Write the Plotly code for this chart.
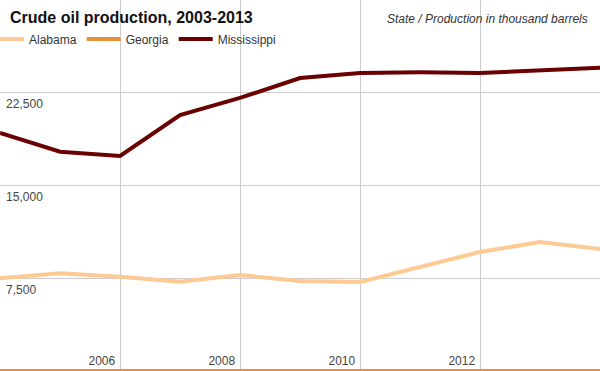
import plotly.graph_objects as go

years = [2003, 2004, 2005, 2006, 2007, 2008, 2009, 2010, 2011, 2012, 2013]
# each annual value is plotted at the end of its year
dates = [f"{y}-12-31" for y in years]

alabama = [7500, 7900, 7620, 7220, 7760, 7280, 7200, 8410, 9620, 10430, 9870]
georgia = [0, 0, 0, 0, 0, 0, 0, 0, 0, 0, 0]
mississippi = [19250, 17730, 17390, 20700, 22080, 23690, 24100, 24150, 24100, 24340, 24520]

series = [
    ("Alabama", alabama, "#fdca94"),
    ("Georgia", georgia, "#e8913a"),
    ("Mississippi", mississippi, "#6b0000"),
]

x_tickvals = ["2006-01-01", "2008-01-01", "2010-01-01", "2012-01-01"]
x_ticktext = ["2006", "2008", "2010", "2012"]
y_tickvals = [7500, 15000, 22500, 30000]
y_ticktext = ["7,500", "15,000", "22,500", ""]

fig = go.Figure()
for name, vals, color in series:
    fig.add_trace(go.Scatter(
        x=dates, y=vals, name=name, mode="lines",
        line=dict(color=color, width=4),
        hoverinfo="skip",
    ))

font_family = "Liberation Sans, Arial, sans-serif"

fig.update_layout(
    width=600, height=371,
    margin=dict(l=0, r=0, t=0, b=0, autoexpand=False),
    paper_bgcolor="white", plot_bgcolor="white",
    font=dict(family=font_family, size=12, color="#444"),
    title=dict(
        text="<b>Crude oil production, 2003-2013</b>",
        font=dict(size=16, color="#111", family=font_family),
        x=10/600, xanchor="left", xref="paper",
        y=1-17/371, yanchor="middle", yref="container",
    ),
    showlegend=True,
    legend=dict(
        orientation="h",
        x=-15/600, xanchor="left",
        y=1-39/371, yanchor="middle",
        bgcolor="rgba(0,0,0,0)",
        itemwidth=34,
        font=dict(size=12, color="#333", family=font_family),
        traceorder="normal",
    ),
    xaxis=dict(
        type="date",
        range=[dates[0], dates[-1]],
        tickvals=x_tickvals, ticktext=x_ticktext,
        showgrid=True, gridcolor="#cccccc", gridwidth=1,
        zeroline=False, showline=False,
        ticklabelposition="inside left",
        ticklabelshift=-5,
        ticklabelstandoff=-2,
        ticks="",
        automargin=False,
        tickfont=dict(size=12, color="#444"),
        fixedrange=True,
    ),
    yaxis=dict(
        range=[0, 30000],
        tickvals=y_tickvals, ticktext=y_ticktext,
        showgrid=True, gridcolor="#cccccc", gridwidth=1,
        zeroline=False,
        showline=True, linecolor="#cccccc", linewidth=1, mirror=True,
        ticklabelposition="inside bottom",
        ticklabelstandoff=5,
        ticklabelshift=3,
        ticks="",
        automargin=False,
        tickfont=dict(size=12, color="#444"),
        fixedrange=True,
    ),
    annotations=[
        dict(
            text="<i>State / Production in thousand barrels</i>",
            xref="paper", yref="paper",
            x=590/600, xanchor="right",
            y=1-19/371, yanchor="middle",
            showarrow=False,
            font=dict(size=12, color="#333", family=font_family),
        )
    ],
)

fig.write_html(
    "out.html",
    config={"displayModeBar": False, "staticPlot": True},
    post_script="document.body.style.margin='0';",
)
